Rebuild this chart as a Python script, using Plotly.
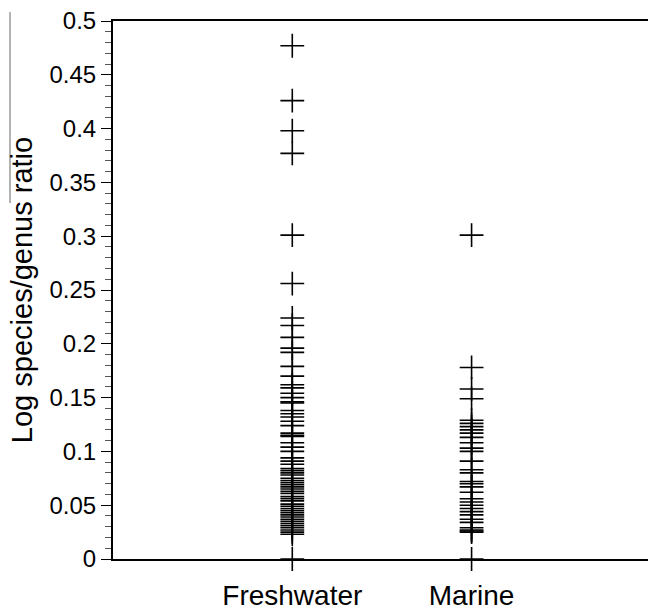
import plotly.graph_objects as go

categories = ["Freshwater", "Marine"]
cat_pos = [1, 2]

freshwater = [0.477, 0.426, 0.398, 0.377, 0.301, 0.256,
              0.224, 0.217, 0.206, 0.196, 0.192, 0.179, 0.170, 0.162,
              0.159, 0.154, 0.150, 0.146, 0.145, 0.138, 0.135, 0.132, 0.128, 0.124,
              0.117, 0.115, 0.114, 0.108, 0.104, 0.100, 0.094, 0.091, 0.088, 0.084,
              0.082, 0.080, 0.078, 0.075, 0.073, 0.071, 0.069, 0.067, 0.065, 0.063,
              0.061, 0.058, 0.056, 0.054, 0.051, 0.049, 0.047, 0.045, 0.043, 0.041,
              0.039, 0.037, 0.035, 0.033, 0.031, 0.029, 0.027, 0.025, 0.023, 0.0]

marine = [0.301, 0.178, 0.158, 0.149,
          0.129, 0.126, 0.123, 0.120, 0.117, 0.113, 0.108, 0.103,
          0.100, 0.091, 0.083, 0.080, 0.072, 0.070, 0.067, 0.062, 0.056, 0.053,
          0.050, 0.047, 0.044, 0.041, 0.037, 0.034, 0.029, 0.027, 0.026, 0.025, 0.0]

y_ticks = [0, 0.05, 0.1, 0.15, 0.2, 0.25, 0.3, 0.35, 0.4, 0.45, 0.5]
y_tick_labels = ["0", "0.05", "0.1", "0.15", "0.2", "0.25", "0.3", "0.35", "0.4", "0.45", "0.5"]

W, H = 648, 611
L, T, B = 113, 21, 46
plot_w = W - L
plot_h = H - T - B

fig = go.Figure()
for pos, vals in zip(cat_pos, [freshwater, marine]):
    fig.add_trace(go.Scatter(
        x=[pos] * len(vals), y=vals, mode="markers",
        marker=dict(symbol="cross-thin", size=17, color="black",
                    line=dict(color="black", width=1.6)),
        showlegend=False, cliponaxis=False, hoverinfo="skip",
    ))

fig.update_layout(
    width=W, height=H,
    margin=dict(l=L, r=0, t=T, b=B),
    plot_bgcolor="white", paper_bgcolor="white",
    font=dict(family="Liberation Sans, Arial, sans-serif", color="black"),
    xaxis=dict(
        range=[0, 2.984], tickvals=cat_pos, ticktext=categories,
        showgrid=False, zeroline=False, showline=True, linecolor="black",
        linewidth=2, mirror=True, ticks="outside", ticklen=10, tickwidth=1.3,
        tickcolor="black", tickfont=dict(size=28),
    ),
    yaxis=dict(
        range=[0, 0.5], tickvals=y_ticks, ticktext=y_tick_labels,
        showgrid=False, zeroline=False, showline=True, linecolor="black",
        linewidth=2, ticks="outside", ticklen=10, tickwidth=1, tickcolor="black",
        tickfont=dict(size=24),
        minor=dict(dtick=0.01, ticks="outside", ticklen=6, tickwidth=0.8,
                   tickcolor="#555555", showgrid=False),
        title=dict(text="Log species/genus ratio", font=dict(size=29), standoff=8),
    ),
    shapes=[dict(type="line", xref="paper", yref="paper",
                 x0=(10 - L) / plot_w, x1=(10 - L) / plot_w,
                 y0=(T + plot_h - 12) / plot_h, y1=(T + plot_h - 205) / plot_h,
                 line=dict(color="#808080", width=1.2))],
)

fig.write_html("out.html", config={"displayModeBar": False},
               post_script="document.body.style.margin='0';document.body.style.overflow='hidden';")
